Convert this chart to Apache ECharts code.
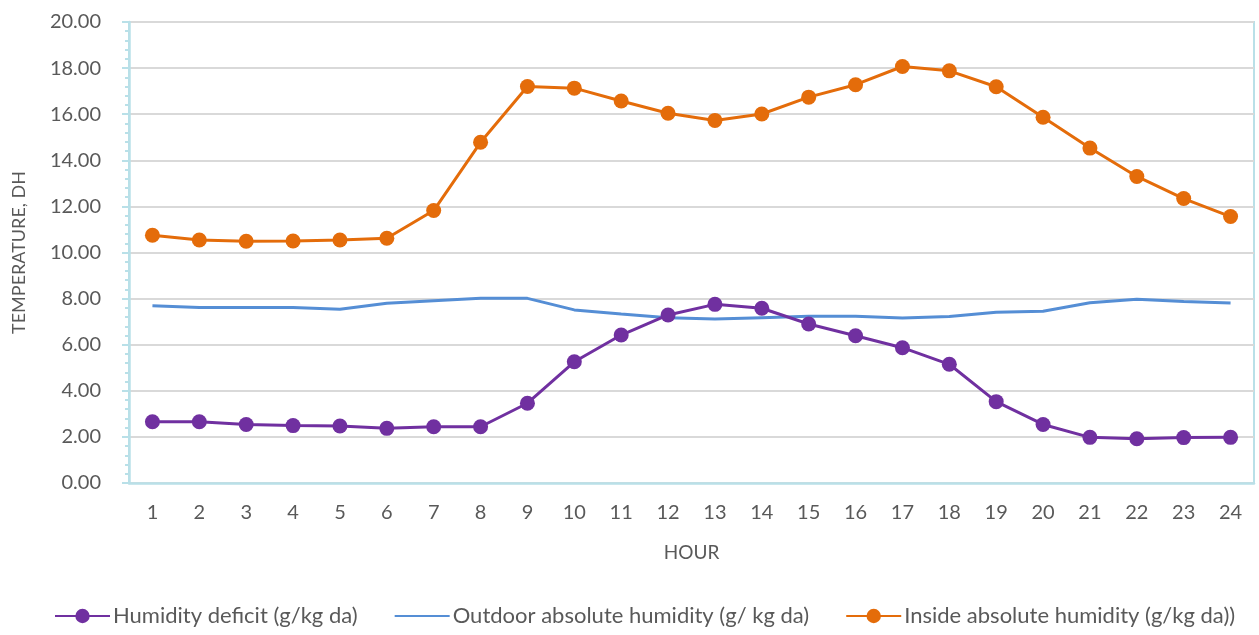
<!DOCTYPE html>
<html>
<head>
<meta charset="utf-8">
<script src="https://cdn.jsdelivr.net/npm/echarts@6/dist/echarts.min.js"></script>
<style>
html,body{margin:0;padding:0;background:#fff;}
#chart{width:1259px;height:635px;}
</style>
</head>
<body>
<div id="chart"></div>
<script>
const hours = ['1','2','3','4','5','6','7','8','9','10','11','12','13','14','15','16','17','18','19','20','21','22','23','24'];
const humidityDeficit = [2.66,2.66,2.54,2.49,2.47,2.37,2.44,2.44,3.46,5.26,6.42,7.29,7.75,7.58,6.90,6.39,5.87,5.15,3.53,2.54,1.98,1.92,1.97,1.98];
const outdoorHumidity = [7.69,7.61,7.61,7.61,7.54,7.80,7.91,8.01,8.01,7.51,7.33,7.17,7.11,7.17,7.23,7.23,7.16,7.22,7.41,7.45,7.82,7.97,7.87,7.81];
const insideHumidity = [10.75,10.54,10.49,10.50,10.54,10.62,11.82,14.78,17.20,17.13,16.57,16.04,15.73,16.01,16.74,17.28,18.07,17.88,17.19,15.87,14.53,13.30,12.34,11.56];
const seriesNames = ['Humidity deficit (g/kg da)','Outdoor absolute humidity (g/ kg da)','Inside absolute humidity (g/kg da))'];

const FONT = 'Lato';
const TXT = '#595959';
const AX = '#b9e0e8';
const chart = echarts.init(document.getElementById('chart'), null, {renderer:'canvas'});
chart.setOption({
  animation:false,
  backgroundColor:'#ffffff',
  textStyle:{fontFamily:FONT},
  grid:{left:129,right:5,top:22,bottom:152,containLabel:false,outerBoundsMode:'none',
        show:true,borderColor:AX,borderWidth:2,backgroundColor:'transparent'},
  legend:{
    top:605,left:54,width:1205,padding:0,itemWidth:55,itemHeight:18,itemGap:36,
    textStyle:{color:TXT,fontSize:22,fontFamily:FONT,padding:[0,0,0,-2]},
    data:[
      {name:seriesNames[0]},
      {name:seriesNames[1],itemStyle:{opacity:0}},
      {name:seriesNames[2]}
    ]
  },
  xAxis:{
    type:'category',data:hours,boundaryGap:true,
    name:'HOUR',nameLocation:'middle',nameGap:60,
    nameTextStyle:{color:TXT,fontSize:19,fontFamily:FONT},
    axisLine:{lineStyle:{color:AX,width:2.5}},
    axisTick:{alignWithLabel:true,length:6,lineStyle:{color:AX,width:2}},
    axisLabel:{color:TXT,fontSize:20,margin:20,fontFamily:FONT},
    splitLine:{show:false}
  },
  yAxis:{
    type:'value',min:0,max:20,interval:2,
    name:'TEMPERATURE, DH',nameLocation:'middle',nameGap:101,
    nameTextStyle:{color:TXT,fontSize:18,fontFamily:FONT},
    axisLine:{show:true,lineStyle:{color:AX,width:2.5}},
    axisTick:{show:true,inside:false,length:7,lineStyle:{color:AX,width:2}},
    minorTick:{show:true,splitNumber:5,length:4,lineStyle:{color:AX,width:2}},
    axisLabel:{color:TXT,fontSize:20,margin:28,fontFamily:FONT,formatter:v=>v.toFixed(2)},
    splitLine:{show:true,lineStyle:{color:'#d9d9d9',width:2}}
  },
  series:[
    {name:seriesNames[0],type:'line',data:humidityDeficit,symbol:'circle',symbolSize:15,
     lineStyle:{color:'#7030a0',width:3},itemStyle:{color:'#7030a0'},z:3},
    {name:seriesNames[1],type:'line',data:outdoorHumidity,symbol:'none',showSymbol:false,
     lineStyle:{color:'#558ed5',width:3},itemStyle:{color:'#558ed5'},z:2},
    {name:seriesNames[2],type:'line',data:insideHumidity,symbol:'circle',symbolSize:15,
     lineStyle:{color:'#e46c0a',width:3},itemStyle:{color:'#e46c0a'},z:4}
  ]
});
</script>
</body>
</html>
